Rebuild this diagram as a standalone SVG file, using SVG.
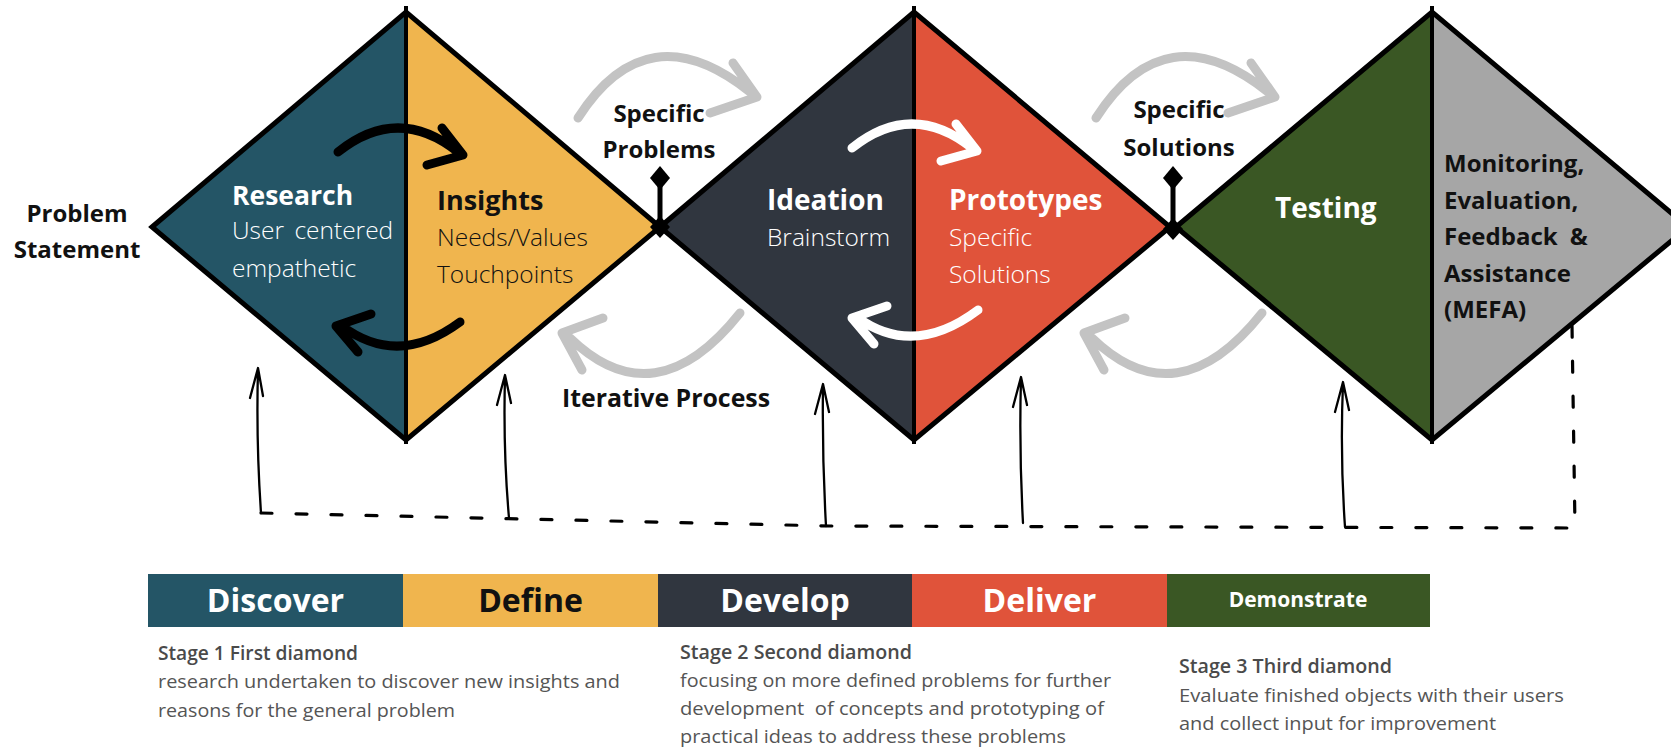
<svg xmlns="http://www.w3.org/2000/svg" width="1671" height="750" viewBox="0 0 1671 750">
<style>
  .edge{stroke:#000;stroke-width:5;stroke-linejoin:miter;fill:none}
  .div{stroke:#000;stroke-width:4}
  .t{font-family:"Open Sans","Liberation Sans",sans-serif}
  .b{font-weight:700}
  .l{font-weight:300}
  .w{fill:#ffffff}
  .k{fill:#111111}
  .bar{font-family:"Open Sans","Liberation Sans",sans-serif;font-weight:700;font-size:32px;text-anchor:middle}
  .bar.sm{font-size:21px}
  .stg{font-family:"Open Sans","Liberation Sans",sans-serif;font-size:19px;fill:#555555}
  .stgT{font-weight:600;fill:#4a4a4a}
  .brush{fill:none;stroke-width:9;stroke-linecap:round;stroke-linejoin:round}
  .gray{stroke:#c3c3c3}
  .thin{fill:none;stroke:#000;stroke-width:2.3;stroke-linecap:round;stroke-linejoin:round}
  .dash{fill:none;stroke:#000;stroke-width:3.2;stroke-dasharray:11 24;stroke-linecap:round}
</style>

<!-- Diamond 1 -->
<g id="d1-research">
  <polygon points="152,227 406,12 406,440" fill="#245566"/>
  <text class="t b w" x="232" y="205" font-size="26.5">Research</text>
  <text class="t l w" x="232" y="239" font-size="24.5" word-spacing="4">User centered</text>
  <text class="t l w" x="232" y="277" font-size="24.5">empathetic</text>
</g>
<g id="d1-insights">
  <polygon points="406,12 660,227 406,440" fill="#f0b54e"/>
  <text class="t b k" x="437" y="210" font-size="27">Insights</text>
  <text class="t l k" x="437" y="246" font-size="24.5">Needs/Values</text>
  <text class="t l k" x="437" y="283" font-size="24.5">Touchpoints</text>
</g>
<!-- Diamond 2 -->
<g id="d2-ideation">
  <polygon points="660,227 914,12 914,440" fill="#30363f"/>
  <text class="t b w" x="767" y="210" font-size="28">Ideation</text>
  <text class="t l w" x="767" y="246" font-size="24.5">Brainstorm</text>
</g>
<g id="d2-prototypes">
  <polygon points="914,12 1170,227 914,440" fill="#e0533a"/>
  <text class="t b w" x="949" y="210" font-size="28">Prototypes</text>
  <text class="t l w" x="949" y="246" font-size="24.5">Specific</text>
  <text class="t l w" x="949" y="283" font-size="24.5">Solutions</text>
</g>
<!-- Diamond 3 -->
<g id="d3-testing">
  <polygon points="1176,227 1432,12 1432,440" fill="#3a5724"/>
  <text class="t b w" x="1275" y="218" font-size="28">Testing</text>
</g>
<g id="d3-mefa">
  <polygon points="1432,12 1688,227 1432,440" fill="#a6a6a6"/>
  <text class="t b k" x="1444" y="172" font-size="24">Monitoring,</text>
  <text class="t b k" x="1444" y="209" font-size="24">Evaluation,</text>
  <text class="t b k" x="1444" y="245" font-size="24" word-spacing="6">Feedback &amp;</text>
  <text class="t b k" x="1444" y="282" font-size="24">Assistance</text>
  <text class="t b k" x="1444" y="318" font-size="24">(MEFA)</text>
</g>
<g id="diamond-outlines">
  <polygon class="edge" points="152,227 406,12 660,227 406,440"/>
  <polygon class="edge" points="660,227 914,12 1170,227 914,440"/>
  <polygon class="edge" points="1176,227 1432,12 1688,227 1432,440"/>
  <line class="div" x1="406" y1="6" x2="406" y2="444"/>
  <line class="div" x1="914" y1="6" x2="914" y2="444"/>
  <line class="div" x1="1432" y1="6" x2="1432" y2="444"/>
</g>

<g id="problem-statement">
  <text class="t b k" x="77" y="222" font-size="24" text-anchor="middle">Problem</text>
  <text class="t b k" x="77" y="258" font-size="24" text-anchor="middle">Statement</text>
</g>
<g id="label-specific-problems">
  <text class="t b k" x="659" y="122" font-size="24" text-anchor="middle">Specific</text>
  <text class="t b k" x="659" y="158" font-size="24" text-anchor="middle">Problems</text>
</g>
<g id="label-specific-solutions">
  <text class="t b k" x="1179" y="118" font-size="24" text-anchor="middle">Specific</text>
  <text class="t b k" x="1179" y="156" font-size="24" text-anchor="middle">Solutions</text>
</g>
<g id="label-iterative">
  <text class="t b k" x="562" y="407" font-size="25" textLength="208" lengthAdjust="spacingAndGlyphs">Iterative Process</text>
</g>

<g id="connectors">
  <g id="junction-1">
    <line x1="660" y1="227" x2="660" y2="184" stroke="#000" stroke-width="5"/>
    <polygon points="660,166 670,178 660,190 650,178" fill="#000"/>
    <polygon points="660,216 670,227 660,238 650,227" fill="#000"/>
  </g>
  <g id="junction-2">
    <line x1="1173" y1="229" x2="1173" y2="184" stroke="#000" stroke-width="5"/>
    <polygon points="1173,166 1183,178 1173,190 1163,178" fill="#000"/>
    <polygon points="1173,218 1183,229 1173,240 1163,229" fill="#000"/>
  </g>
  <path class="brush" stroke="#000" d="M338,152 Q398,104 458,152 M442,128 L463,155 L427,165"/>
  <path class="brush" stroke="#000" d="M460,322 Q398,368 342,326 M371,314 L336,326 L358,352"/>
  <path class="brush" stroke="#fff" d="M852,148 Q912,100 972,148 M956,124 L977,151 L941,161"/>
  <path class="brush" stroke="#fff" d="M978,310 Q914,358 858,318 M887,306 L852,318 L874,344"/>
  <path class="brush gray" d="M578,118 Q647,10 750,92 M733,63 L757,97 L710,113"/>
  <path class="brush gray" d="M740,313 Q655,420 570,338 M603,318 L562,333 L582,370"/>
  <path class="brush gray" d="M1096,118 Q1165,10 1268,92 M1251,63 L1275,97 L1228,113"/>
  <path class="brush gray" d="M1262,313 Q1177,420 1092,338 M1125,318 L1084,333 L1104,370"/>
  <path class="dash" d="M261,513 L830,526 L1575,528 L1572,325"/>
  <path class="thin" d="M261,513 Q256,440 258,369 M250,398 L258,368 L263,396"/>
  <path class="thin" d="M509,518 Q503,450 505,376 M497,405 L505,375 L511,403"/>
  <path class="thin" d="M826,526 Q822,455 823,385 M815,414 L823,384 L829,412"/>
  <path class="thin" d="M1023,523 Q1019,450 1021,378 M1013,407 L1021,377 L1027,405"/>
  <path class="thin" d="M1345,527 Q1340,455 1343,383 M1335,412 L1343,382 L1349,410"/>
</g>

<g id="bar-discover">
  <rect x="148" y="574" width="255" height="53" fill="#245566"/>
  <text class="bar w" x="275.5" y="612">Discover</text>
</g>
<g id="bar-define">
  <rect x="403" y="574" width="255" height="53" fill="#f0b54e"/>
  <text class="bar k" x="530.5" y="612">Define</text>
</g>
<g id="bar-develop">
  <rect x="658" y="574" width="254" height="53" fill="#30363f"/>
  <text class="bar w" x="785" y="612">Develop</text>
</g>
<g id="bar-deliver">
  <rect x="912" y="574" width="255" height="53" fill="#e0533a"/>
  <text class="bar w" x="1039.5" y="612">Deliver</text>
</g>
<g id="bar-demonstrate">
  <rect x="1167" y="574" width="263" height="53" fill="#3a5724"/>
  <text class="bar sm w" x="1298" y="607">Demonstrate</text>
</g>

<g id="stage-1">
  <text class="stg stgT" x="158" y="660" textLength="200" lengthAdjust="spacingAndGlyphs">Stage 1 First diamond</text>
  <text class="stg" x="158" y="688" textLength="462" lengthAdjust="spacingAndGlyphs">research undertaken to discover new insights and</text>
  <text class="stg" x="158" y="717" textLength="297" lengthAdjust="spacingAndGlyphs">reasons for the general problem</text>
</g>
<g id="stage-2">
  <text class="stg stgT" x="680" y="659" textLength="232" lengthAdjust="spacingAndGlyphs">Stage 2 Second diamond</text>
  <text class="stg" x="680" y="687" textLength="431" lengthAdjust="spacingAndGlyphs">focusing on more defined problems for further</text>
  <text class="stg" x="680" y="715" textLength="424" lengthAdjust="spacingAndGlyphs" xml:space="preserve">development  of concepts and prototyping of</text>
  <text class="stg" x="680" y="743" textLength="386" lengthAdjust="spacingAndGlyphs">practical ideas to address these problems</text>
</g>
<g id="stage-3">
  <text class="stg stgT" x="1179" y="673" textLength="213" lengthAdjust="spacingAndGlyphs">Stage 3 Third diamond</text>
  <text class="stg" x="1179" y="702" textLength="385" lengthAdjust="spacingAndGlyphs">Evaluate finished objects with their users</text>
  <text class="stg" x="1179" y="730" textLength="317" lengthAdjust="spacingAndGlyphs">and collect input for improvement</text>
</g>
</svg>
